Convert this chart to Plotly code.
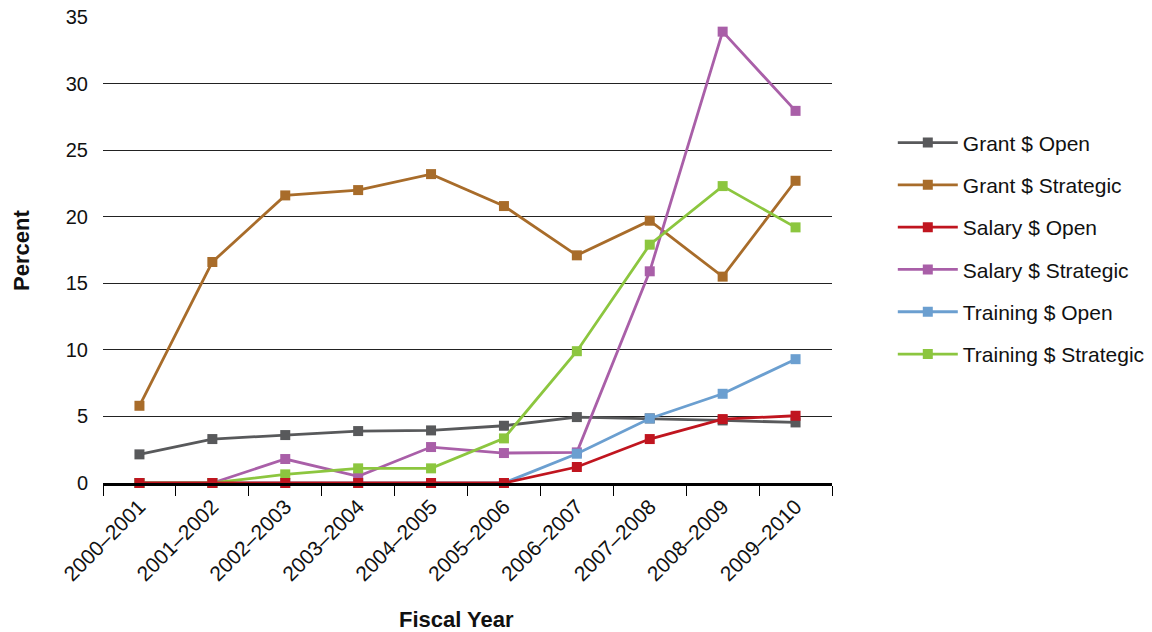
import plotly.graph_objects as go

years = ["2000–2001", "2001–2002", "2002–2003", "2003–2004", "2004–2005",
         "2005–2006", "2006–2007", "2007–2008", "2008–2009", "2009–2010"]

grant_open = [2.15, 3.3, 3.6, 3.9, 3.95, 4.3, 4.95, 4.85, 4.7, 4.55]
grant_strategic = [5.8, 16.6, 21.6, 22.0, 23.2, 20.8, 17.1, 19.7, 15.5, 22.7]
salary_open = [0, 0, 0, 0, 0, 0, 1.2, 3.3, 4.8, 5.05]
salary_strategic = [0, 0, 1.8, 0.5, 2.7, 2.25, 2.3, 15.9, 33.9, 27.95]
training_open = [0, 0, 0, 0, 0, 0, 2.2, 4.85, 6.7, 9.3]
training_strategic = [0, 0, 0.65, 1.1, 1.1, 3.35, 9.9, 17.9, 22.3, 19.2]

series = [
    ("Grant $ Open", grant_open, "#58595b", 1),
    ("Grant $ Strategic", grant_strategic, "#a86c2a", 2),
    ("Salary $ Strategic", salary_strategic, "#a95fa8", 4),
    ("Training $ Open", training_open, "#6b9fd0", 5),
    ("Training $ Strategic", training_strategic, "#8cc63f", 6),
    ("Salary $ Open", salary_open, "#c0151f", 3),
]

fig = go.Figure()
for name, vals, color, rank in series:
    fig.add_trace(go.Scatter(
        x=years, y=vals, name=name, mode="lines+markers",
        line=dict(color=color, width=2.8),
        marker=dict(symbol="square", size=10, color=color),
        cliponaxis=False, legendrank=rank, legendgroup=name,
    ))

font = "Liberation Sans, Arial, sans-serif"
fig.update_layout(
    width=1152, height=632,
    margin=dict(l=103, r=320, t=17, b=149, autoexpand=False),
    paper_bgcolor="white", plot_bgcolor="white",
    font=dict(family=font, size=20, color="#111"),
    showlegend=True,
    legend=dict(xref="container", x=0.775, xanchor="left",
                yref="container", y=0.607, yanchor="middle",
                font=dict(size=21, color="#111"), tracegroupgap=12,
                itemwidth=60, bgcolor="rgba(0,0,0,0)"),
    xaxis=dict(
        type="category", range=[-0.5, 9.5], automargin=False,
        tickangle=-45, tickson="boundaries",
        ticks="outside", ticklen=10, tickcolor="#000", tickwidth=1,
        showline=True, linecolor="#000", linewidth=3,
        showgrid=False, tickfont=dict(size=21),
    ),
    yaxis=dict(
        range=[0, 35], dtick=5, showgrid=True, gridcolor="#222", gridwidth=1,
        zeroline=False, showline=False, ticks="", tickfont=dict(size=20),
        ticklabelstandoff=14, automargin=False,
    ),
    annotations=[
        dict(text="<b>Fiscal Year</b>", xref="paper", yref="paper",
             x=(456 - 103) / 729, y=-(619 - 483) / 466,
             xanchor="center", yanchor="middle", showarrow=False,
             font=dict(size=22, color="#111")),
        dict(text="<b>Percent</b>", xref="paper", yref="paper",
             x=-(103 - 22) / 729, y=(483 - 251) / 466,
             xanchor="center", yanchor="middle", showarrow=False,
             textangle=-90, font=dict(size=22, color="#111")),
    ],
)

fig.write_html("out.html")
